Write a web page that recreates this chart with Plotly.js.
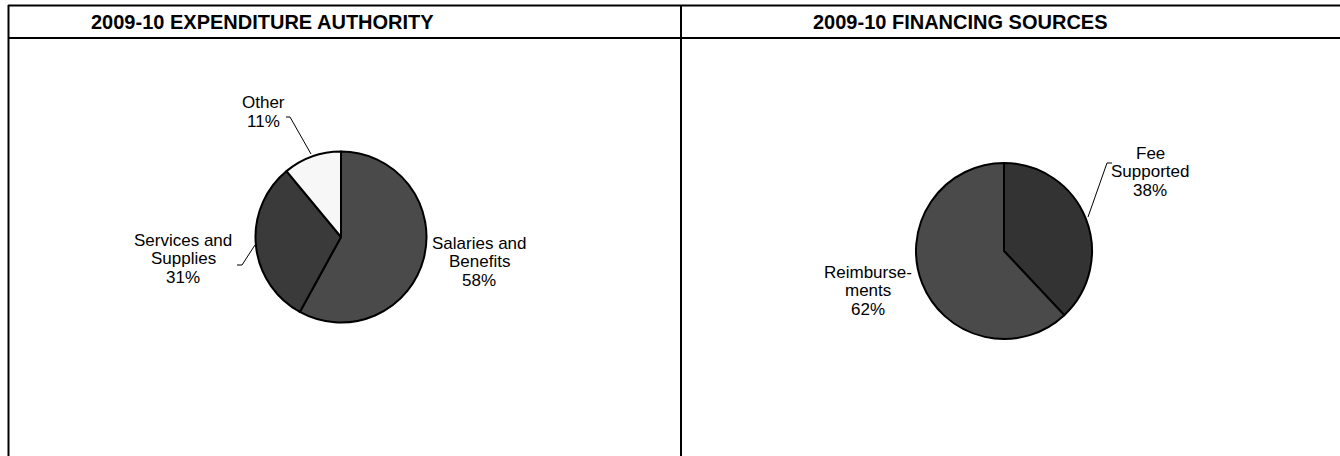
<!DOCTYPE html>
<html>
<head>
<meta charset="utf-8">
<script src="https://cdn.plot.ly/plotly-3.0.1.min.js"></script>
<style>html,body{margin:0;padding:0;background:#fff;}#chart{width:1340px;height:456px;}</style>
</head>
<body>
<div id="chart"></div>
<script>
// ---- data ----
var panelTitles = ["2009-10 EXPENDITURE AUTHORITY", "2009-10 FINANCING SOURCES"];
var expLabels = ["Salaries and<br>Benefits", "Services and<br>Supplies", "Other"];
var expValues = [58, 31, 11];
var expColors = ["#4a4a4a", "#3a3a3a", "#f7f7f7"];
var finLabels = ["Fee<br>Supported", "Reimburse-<br>ments"];
var finValues = [38, 62];
var finColors = ["#333333", "#4a4a4a"];

var W = 1340, H = 456;
function px(x){ return x / W; }
function py(y){ return 1 - y / H; }
function pct(vals, i){
  var s = vals.reduce(function(a,b){return a+b;},0);
  return Math.round(vals[i] / s * 100) + "%";
}

var font = "Liberation Sans, Arial, sans-serif";

var traces = [
  {
    type: "pie", values: expValues, labels: expLabels, sort: false,
    direction: "clockwise", rotation: 0, textinfo: "none", hoverinfo: "none",
    marker: {colors: expColors, line: {color: "#000", width: 2}},
    domain: {x: [px(255.5), px(426.5)], y: [py(322.5), py(151.5)]},
    showlegend: false
  },
  {
    type: "pie", values: finValues, labels: finLabels, sort: false,
    direction: "clockwise", rotation: 0, textinfo: "none", hoverinfo: "none",
    marker: {colors: finColors, line: {color: "#000", width: 2}},
    domain: {x: [px(916), px(1092)], y: [py(339), py(163)]},
    showlegend: false
  }
];

var annotations = [
  {text: "<b>" + panelTitles[0] + "</b>", x: px(262), y: py(22), xref: "paper", yref: "paper",
   xanchor: "center", yanchor: "middle", showarrow: false, font: {family: font, size: 20, color: "#000"}},
  {text: "<b>" + panelTitles[1] + "</b>", x: px(960), y: py(22), xref: "paper", yref: "paper",
   xanchor: "center", yanchor: "middle", showarrow: false, font: {family: font, size: 20, color: "#000"}}
];

// multi-line label: one annotation per line, tight line spacing
function addLabel(label, value, cx, yFirst){
  var lines = (label + "<br>" + value).split("<br>");
  lines.forEach(function(t, i){
    annotations.push({text: t, x: px(cx), y: py(yFirst + i * 18.8), xref: "paper", yref: "paper",
      xanchor: "center", yanchor: "middle", showarrow: false,
      font: {family: font, size: 17, color: "#000"}});
  });
}
addLabel(expLabels[0], pct(expValues, 0), 479, 243);
addLabel(expLabels[1], pct(expValues, 1), 183, 240);
addLabel(expLabels[2], pct(expValues, 2), 263, 103);
addLabel(finLabels[0], pct(finValues, 0), 1150, 153);
addLabel(finLabels[1], pct(finValues, 1), 868, 272);

function seg(x0,y0,x1,y1,w){
  return {type: "line", xref: "paper", yref: "paper", x0: px(x0), y0: py(y0), x1: px(x1), y1: py(y1),
    line: {color: "#000", width: w}};
}
function path(pts){
  var d = pts.map(function(p,i){ return (i? "L":"M") + px(p[0]) + "," + py(p[1]); }).join(" ");
  return {type: "path", xref: "paper", yref: "paper", path: d, line: {color: "#000", width: 1}};
}

var shapes = [
  seg(8, 5.5, 1340, 5.5, 2),
  seg(8, 38, 1340, 38, 2),
  seg(8.5, 5, 8.5, 456, 2),
  seg(681, 5, 681, 456, 2),
  path([[286,117],[290,117],[311,154]]),
  path([[237,265],[242,265],[255,245]]),
  path([[1112,163],[1107,163],[1088,217]])
];

var layout = {
  width: W, height: H,
  margin: {l: 0, r: 0, t: 0, b: 0},
  paper_bgcolor: "#fff", plot_bgcolor: "#fff",
  font: {family: font, color: "#000"},
  annotations: annotations, shapes: shapes, showlegend: false
};

Plotly.newPlot("chart", traces, layout, {displayModeBar: false, staticPlot: true});
</script>
</body>
</html>
